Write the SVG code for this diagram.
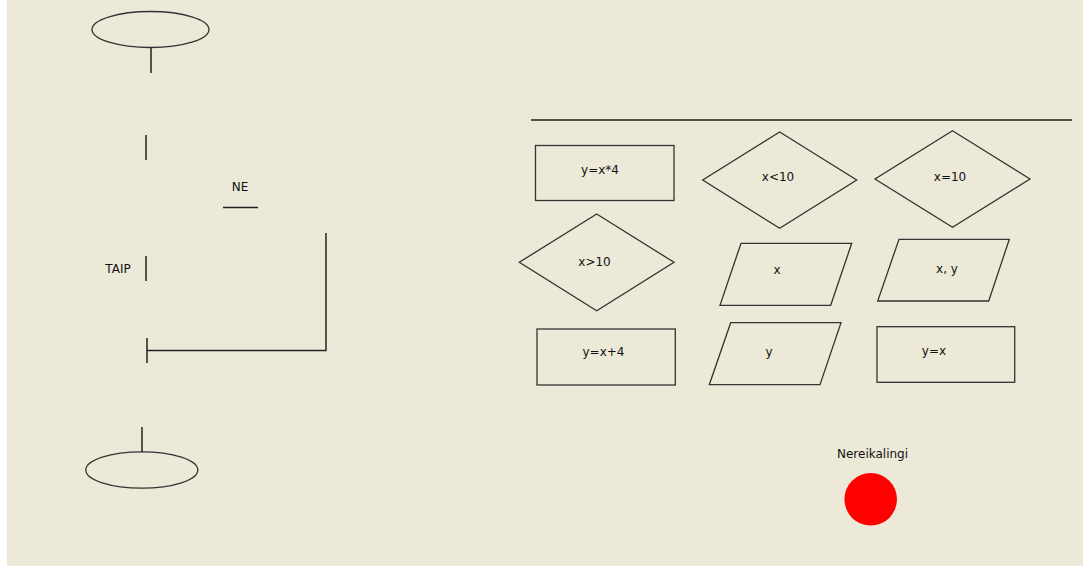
<svg xmlns="http://www.w3.org/2000/svg" width="1083" height="567" viewBox="0 0 1083 567">
<style>
.s{fill:none;stroke:#333;stroke-width:1.3}
.l{fill:none;stroke:#222;stroke-width:1.5}
.t{font-family:"DejaVu Sans","Liberation Sans",sans-serif;font-size:12px;fill:#111;text-anchor:middle}
</style>
<rect x="0" y="0" width="1083" height="567" fill="#ffffff"/>
<rect x="7" y="0" width="1076" height="566" fill="#ECE9D8"/>
<g id="start"><ellipse class="s" cx="150.5" cy="29.5" rx="58.5" ry="18"/></g>
<g id="end"><ellipse class="s" cx="141.8" cy="470" rx="56" ry="18.2"/></g>
<g id="label-ne"><text class="t" x="240" y="191">NE</text></g>
<g id="label-taip"><text class="t" x="118" y="273">TAIP</text></g>
<g id="connectors">
<line class="l" x1="151" y1="47" x2="151" y2="73"/>
<line class="l" x1="146" y1="135" x2="146" y2="160"/>
<line class="l" x1="223" y1="207.5" x2="258" y2="207.5"/>
<line class="l" x1="146" y1="256" x2="146" y2="281"/>
<polyline class="l" points="326,233 326,350.5 147,350.5"/>
<line class="l" x1="147" y1="338" x2="147" y2="363"/>
<line class="l" x1="142" y1="427" x2="142" y2="452"/>
<line class="l" x1="531" y1="120" x2="1072" y2="120"/>
</g>
<g id="rect-yx4"><rect class="s" x="535.5" y="145.5" width="138.5" height="55"/><text class="t" x="600" y="174">y=x*4</text></g>
<g id="dia-xlt10"><polygon class="s" points="779.7,132 856.7,180 779.7,228.3 702.7,180"/><text class="t" x="778" y="181">x&lt;10</text></g>
<g id="dia-xeq10"><polygon class="s" points="952.5,130.7 1030,179 952.5,227.3 875,179"/><text class="t" x="950" y="181">x=10</text></g>
<g id="dia-xgt10"><polygon class="s" points="596.7,214 674,262.3 596.7,310.7 519.3,262.3"/><text class="t" x="594.5" y="266">x&gt;10</text></g>
<g id="par-x"><polygon class="s" points="741,243.3 851.7,243.3 830.7,305.3 720,305.3"/><text class="t" x="777" y="274">x</text></g>
<g id="par-xy"><polygon class="s" points="899,239.3 1009.3,239.3 988.7,301 877.7,301"/><text class="t" x="947" y="273">x, y</text></g>
<g id="rect-yx4p"><rect class="s" x="537" y="329" width="138.3" height="56"/><text class="t" x="603.5" y="356">y=x+4</text></g>
<g id="par-y"><polygon class="s" points="730.7,322.7 841,322.7 820,384.7 709.3,384.7"/><text class="t" x="769" y="356">y</text></g>
<g id="rect-yx"><rect class="s" x="877" y="326.7" width="137.7" height="55.6"/><text class="t" x="934" y="355">y=x</text></g>
<g id="unused"><text class="t" x="872.5" y="458">Nereikalingi</text><circle cx="870.7" cy="499.3" r="26.3" fill="#ff0000"/></g>
</svg>
